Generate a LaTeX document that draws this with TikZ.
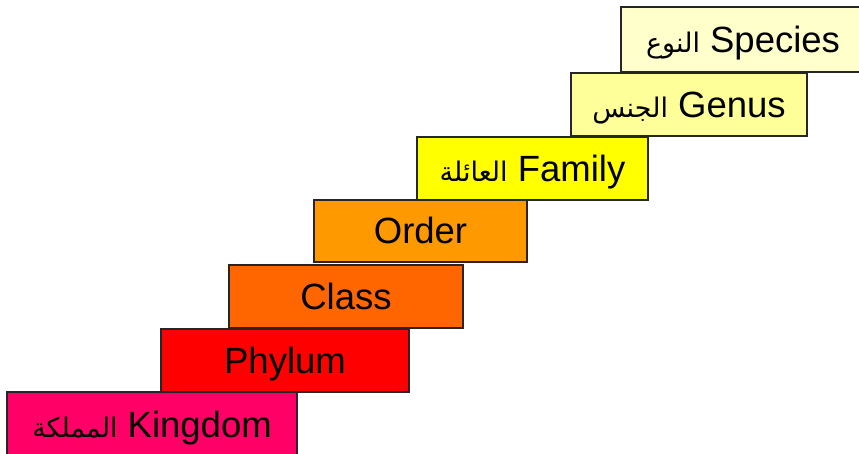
\documentclass[tikz,border=0pt]{standalone}
\usepackage{fontspec}
\setmainfont{Liberation Sans}
\newfontfamily\arabicfont[Script=Arabic]{DejaVu Sans}
\TeXXeTstate=1
\definecolor{cKingdom}{HTML}{FF0066}
\definecolor{cPhylum}{HTML}{FF0000}
\definecolor{cClass}{HTML}{FF6600}
\definecolor{cOrder}{HTML}{FF9900}
\definecolor{cFamily}{HTML}{FFFF00}
\definecolor{cGenus}{HTML}{FFFF99}
\definecolor{cSpecies}{HTML}{FFFFCC}
\newcommand{\ar}[1]{{\arabicfont\fontsize{27}{32}\selectfont\beginR #1\endR}}
\tikzset{
  stepbox/.style={draw=black!85, line width=1.3pt, inner sep=0pt, anchor=center,
    text height=34pt, text depth=8pt,
    font=\fontsize{36.5}{43}\selectfont, text=black}
}
\begin{document}
\begin{tikzpicture}[x=1pt,y=-1pt]
\useasboundingbox (0,0) rectangle (859,454);
\clip (0,0) rectangle (859,454);
\node[stepbox, fill=cKingdom, minimum width=290pt, minimum height=64pt] (kingdom) at (152,424) {\ar{المملكة} Kingdom};
\node[stepbox, fill=cPhylum, minimum width=248pt, minimum height=63pt] (phylum) at (285,360.5) {Phylum};
\node[stepbox, fill=cClass, minimum width=234pt, minimum height=63pt] (class) at (346,296.5) {Class};
\node[stepbox, fill=cOrder, minimum width=213pt, minimum height=62pt] (order) at (420.5,231) {Order};
\node[stepbox, fill=cFamily, minimum width=231pt, minimum height=63pt] (family) at (532.5,168.5) {\ar{العائلة} Family};
\node[stepbox, fill=cGenus, minimum width=236pt, minimum height=63pt] (genus) at (689,104.5) {\ar{الجنس} Genus};
\node[stepbox, fill=cSpecies, minimum width=244pt, minimum height=65pt] (species) at (743,39.5) {\ar{النوع} Species};
\end{tikzpicture}
\end{document}
